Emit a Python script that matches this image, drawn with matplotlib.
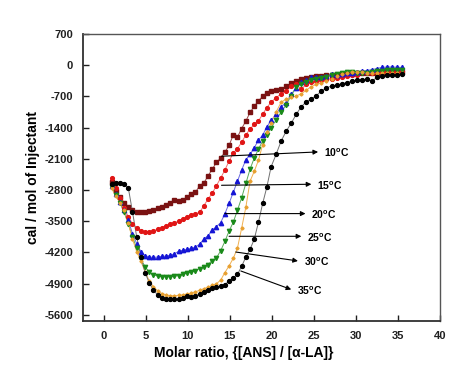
import matplotlib
matplotlib.use("Agg")
import matplotlib.pyplot as plt

plt.rcParams['font.family'] = ['Liberation Sans', 'DejaVu Sans']
plt.rcParams['font.weight'] = 'bold'
plt.rcParams['axes.unicode_minus'] = False
plt.rcParams['mathtext.fontset'] = 'custom'
plt.rcParams['mathtext.rm'] = 'Liberation Sans'
plt.rcParams['mathtext.bf'] = 'Liberation Sans:bold'

# ---------------- data ----------------
molar_ratio = [0.9, 1.4, 1.9, 2.4, 2.9, 3.4, 3.9, 4.4, 4.9, 5.4, 5.9, 6.4, 6.9, 7.4, 7.9,
               8.4, 8.9, 9.4, 9.9, 10.4, 10.9, 11.4, 11.9, 12.4, 12.9, 13.4, 13.9, 14.4,
               14.9, 15.4, 15.9, 16.4, 16.9, 17.4, 17.9, 18.4, 18.9, 19.4, 19.9, 20.5,
               21.1, 21.7, 22.3, 22.9, 23.5, 24.1, 24.7, 25.3, 25.9, 26.5, 27.1, 27.7,
               28.3, 28.9, 29.5, 30.1, 30.7, 31.3, 31.9, 32.5, 33.1, 33.7, 34.3, 34.9, 35.5]

heat_10C = [-2620, -2820, -2950, -3080, -3180, -3250, -3300, -3300, -3290, -3270, -3250,
            -3210, -3180, -3130, -3090, -3030, -3040, -3030, -2950, -2880, -2850, -2700,
            -2640, -2480, -2330, -2180, -2080, -1950, -1800, -1560, -1610, -1420, -1250,
            -1060, -920, -800, -700, -620, -570, -560, -540, -470, -400, -350, -300, -290,
            -270, -250, -240, -230, -220, -210, -200, -190, -190, -180, -175, -170, -170,
            -165, -160, -160, -155, -155, -150]

heat_15C = [-2540, -2760, -2980, -3200, -3400, -3560, -3650, -3710, -3740, -3730, -3710,
            -3680, -3640, -3610, -3570, -3530, -3500, -3440, -3400, -3360, -3330, -3300,
            -3150, -3000, -2870, -2700, -2530, -2350, -2150, -1970, -1870, -1730, -1560,
            -1430, -1330, -1250, -1100, -950, -830, -730, -640, -580, -470, -430, -540,
            -430, -380, -350, -330, -320, -300, -280, -260, -250, -230, -210, -150, -180,
            -170, -160, -160, -150, -150, -145, -140]

heat_20C = [-2700, -2880, -3060, -3250, -3480, -3780, -4000, -4180, -4270, -4300, -4310,
            -4300, -4290, -4280, -4260, -4230, -4170, -4150, -4130, -4110, -4080, -4010,
            -3900, -3820, -3700, -3620, -3530, -3330, -3100, -2850, -2600, -2350, -2120,
            -2000, -1850, -1680, -1570, -1380, -1240, -1100, -930, -840, -650, -520, -370,
            -330, -270, -260, -270, -240, -190, -210, -190, -180, -170, -150, -140, -120,
            -100, -75, -50, -40, -40, -45, -50]

heat_25C = [-2730, -2900, -3090, -3300, -3560, -3850, -4100, -4350, -4520, -4640, -4700,
            -4730, -4740, -4740, -4740, -4730, -4720, -4690, -4660, -4640, -4610, -4560,
            -4520, -4470, -4380, -4320, -4160, -3950, -3720, -3520, -3250, -2970, -2650,
            -2330, -2080, -1880, -1700, -1560, -1400, -1230, -1050, -890, -680, -480, -420,
            -380, -340, -300, -280, -260, -230, -200, -170, -150, -160, -170, -180, -180,
            -160, -140, -120, -110, -110, -110, -115]

heat_30C = [-2760, -2930, -3080, -3250, -3550, -3900, -4180, -4400, -4630, -4840, -4970,
            -5060, -5120, -5150, -5170, -5170, -5160, -5150, -5130, -5110, -5080, -5050,
            -5010, -4980, -4940, -4900, -4820, -4650, -4500, -4330, -4100, -3650, -3180,
            -2600, -2380, -2130, -1780, -1500, -1300, -1050, -830, -760, -720, -690, -640,
            -560, -480, -430, -390, -350, -310, -250, -190, -170, -160, -160, -160, -165,
            -170, -170, -170, -170, -170, -170, -170]

heat_35C = [-2660, -2650, -2650, -2660, -2750, -3290, -3850, -4300, -4650, -4880, -5050,
            -5150, -5220, -5250, -5250, -5250, -5250, -5220, -5170, -5200, -5170, -5130,
            -5080, -5040, -5000, -4980, -4960, -4920, -4840, -4770, -4690, -4510, -4300,
            -4130, -3900, -3520, -3100, -2730, -2280, -2000, -1700, -1480, -1300, -1100,
            -930, -820, -760, -680, -580, -510, -465, -450, -420, -390, -360, -335, -330,
            -320, -360, -275, -250, -225, -215, -210, -205]

series_labels = ['10$^\\mathbf{o}$C', '15$^\\mathbf{o}$C', '20$^\\mathbf{o}$C',
                 '25$^\\mathbf{o}$C', '30$^\\mathbf{o}$C', '35$^\\mathbf{o}$C']

# arrow tails (on curves) and heads (data coords)
arrow_tail_x = [14.0, 14.0, 14.4, 14.9, 15.7, 16.3]
arrow_tail_y = [-2042, -2693, -3328, -3837, -4190, -4615]
arrow_head_x = [25.5, 24.7, 24.0, 23.5, 23.1, 22.3]
arrow_head_y = [-1945, -2670, -3328, -3837, -4390, -5030]

x_ticks = [0, 5, 10, 15, 20, 25, 30, 35, 40]
y_ticks = [700, 0, -700, -1400, -2100, -2800, -3500, -4200, -4900, -5600]

# ---------------- figure ----------------
fig = plt.figure(figsize=(4.74, 3.86), dpi=100)
ax = fig.add_axes([0.175, 0.168, 0.753, 0.744])

styles = [
    dict(data=heat_10C, color='#7a1212', lc='#9a4a4a', marker='s', ms=2.5),
    dict(data=heat_15C, color='#e01515', lc='#f07070', marker='o', ms=2.7),
    dict(data=heat_20C, color='#1515d5', lc='#6a6ae0', marker='^', ms=3.1),
    dict(data=heat_25C, color='#1a8a1a', lc='#5aaa5a', marker='v', ms=3.1),
    dict(data=heat_30C, color='#e8a030', lc='#f0b050', marker='D', ms=1.6),
    dict(data=heat_35C, color='#000000', lc='#707070', marker='o', ms=2.8),
]
for st in styles:
    ax.plot(molar_ratio, st['data'], color=st['lc'], lw=0.7, zorder=2)
    ax.plot(molar_ratio, st['data'], linestyle='none', marker=st['marker'],
            ms=st['ms'], color=st['color'], mec=st['color'], zorder=3)

for i, lab in enumerate(series_labels):
    ax.annotate('', xy=(arrow_head_x[i], arrow_head_y[i]),
                xytext=(arrow_tail_x[i], arrow_tail_y[i]),
                arrowprops=dict(arrowstyle='-|>', color='black', lw=0.8,
                                mutation_scale=7, shrinkA=0, shrinkB=0), zorder=4)
    ax.text(arrow_head_x[i] + 0.7, arrow_head_y[i] - 30, lab, fontsize=7.5,
            fontweight='bold', ha='left', va='center', zorder=5)

ax.set_xlim(-2.5, 40)
ax.set_ylim(-5740, 700)
ax.set_xticks(x_ticks)
ax.set_yticks(y_ticks)
ax.set_xticklabels([str(t) for t in x_ticks])
ax.set_yticklabels([str(t) for t in y_ticks])
ax.tick_params(direction='in', length=4, width=1.0, labelsize=8, colors='#202020',
               pad=7)
for lbl in ax.get_xticklabels() + ax.get_yticklabels():
    lbl.set_fontweight('bold')

for side in ['left', 'bottom']:
    ax.spines[side].set_color('#303030')
    ax.spines[side].set_linewidth(1.3)
for side in ['top', 'right']:
    ax.spines[side].set_color('#555555')
    ax.spines[side].set_linewidth(1.0)

ax.set_xlabel('Molar ratio, {[ANS] / [\u03b1-LA]}', fontsize=10, fontweight='bold')
ax.xaxis.set_label_coords(0.45, -0.085)
ax.set_ylabel('cal / mol of Injectant', fontsize=10, fontweight='bold')
ax.yaxis.set_label_coords(-0.12, 0.5)

fig.savefig('out.png', dpi=100)
